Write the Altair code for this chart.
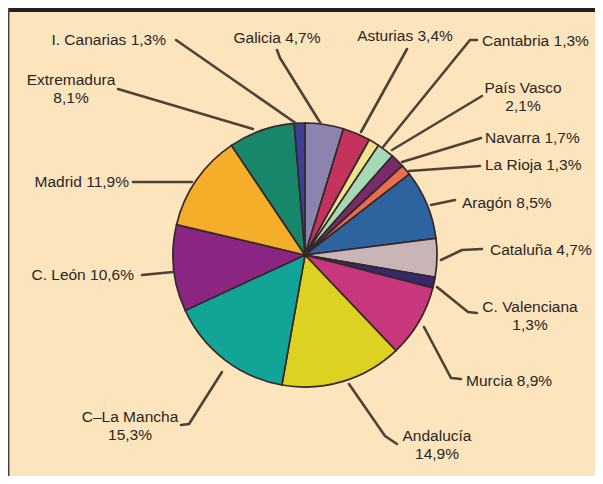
import altair as alt
import pandas as pd

# ---------------- data ----------------
regions = ["Galicia", "Asturias", "Cantabria", "País Vasco", "Navarra", "La Rioja",
           "Aragón", "Cataluña", "C. Valenciana", "Murcia", "Andalucía",
           "C–La Mancha", "C. León", "Madrid", "Extremadura", "I. Canarias"]
shares = [4.7, 3.4, 1.3, 2.1, 1.7, 1.3, 8.5, 4.7, 1.3, 8.9, 14.9, 15.3, 10.6, 11.9, 8.1, 1.3]
colors = ["#8c84ae", "#c4335e", "#f0e28c", "#a6d9b6", "#7b2a68", "#ea6e4e",
          "#2d64a0", "#c9b4b8", "#35296a", "#c8377c", "#ddd222",
          "#12a597", "#8a2581", "#f4ae2a", "#17866b", "#3c3f95"]

# ---------------- layout (page pixel coordinates) ----------------
OFF = 8  # page margin
W, H = 587, 468
CX, CY, R = 305, 255, 132

# label anchor: (x, y, align, two_lines)
label_pos = {
    "I. Canarias": (166, 40, "right", False),
    "Galicia": (277, 38, "center", False),
    "Asturias": (405, 36, "center", False),
    "Cantabria": (482, 41, "left", False),
    "País Vasco": (523, 88, "center", True),
    "Navarra": (485, 138, "left", False),
    "La Rioja": (485, 165, "left", False),
    "Aragón": (462, 203, "left", False),
    "Cataluña": (490, 250, "left", False),
    "C. Valenciana": (530, 307, "center", True),
    "Murcia": (466, 381, "left", False),
    "Andalucía": (437, 436, "center", True),
    "C–La Mancha": (130, 417, "center", True),
    "C. León": (134, 275, "right", False),
    "Madrid": (129, 182, "right", False),
    "Extremadura": (71, 80, "center", True),
}
# leader polylines
leaders = {
    "I. Canarias": [(176, 40), (297, 124)],
    "Galicia": [(277, 50), (280, 58), (321, 124)],
    "Asturias": [(407, 49), (361, 132)],
    "Cantabria": [(477, 40), (470, 40), (383, 147)],
    "País Vasco": [(482, 96), (392, 150)],
    "Navarra": [(481, 138), (402, 162)],
    "La Rioja": [(480, 166), (409, 171)],
    "Aragón": [(455, 200), (431, 205)],
    "Cataluña": [(482, 249), (462, 250), (441, 260)],
    "C. Valenciana": [(477, 313), (468, 312), (437, 287)],
    "Murcia": [(461, 379), (451, 378), (424, 327)],
    "Andalucía": [(397, 444), (385, 436), (349, 384)],
    "C–La Mancha": [(181, 425), (189, 424), (222, 372)],
    "C. León": [(142, 275), (173, 272)],
    "Madrid": [(133, 182), (192, 182)],
    "Extremadura": [(118, 89), (253, 129)],
}

TEXT_FONT = "Liberation Sans"
FS = 15.5
LINE_H = 18


def fmt(v):
    return f"{v:.1f}".replace(".", ",") + "%"


pie_df = pd.DataFrame({"region": regions, "share": shares, "idx": list(range(len(regions)))})

text_rows = []
for reg, val in zip(regions, shares):
    x, y, al, two = label_pos[reg]
    if two:
        text_rows.append({"region": reg, "x": x - OFF, "y": y - OFF, "t": reg, "al": al})
        text_rows.append({"region": reg, "x": x - OFF, "y": y - OFF + LINE_H, "t": fmt(val), "al": al})
    else:
        text_rows.append({"region": reg, "x": x - OFF, "y": y - OFF, "t": f"{reg} {fmt(val)}", "al": al})
text_df = pd.DataFrame(text_rows)

line_rows = []
for reg in regions:
    for k, (x, y) in enumerate(leaders[reg]):
        line_rows.append({"region": reg, "k": k, "x": x - OFF, "y": y - OFF})
line_df = pd.DataFrame(line_rows)

pie = alt.Chart(pie_df).mark_arc(radius=R, stroke="#35282a", strokeWidth=1.7).encode(
    theta=alt.Theta("share:Q", stack=True),
    order=alt.Order("idx:Q"),
    color=alt.Color("region:N", scale=alt.Scale(domain=regions, range=colors), legend=None),
    x=alt.value(CX - OFF),
    y=alt.value(CY - OFF),
)

lines = alt.Chart(line_df).mark_line(color="#4e4238", strokeWidth=2.6, strokeCap="round",
                                     strokeJoin="round").encode(
    x=alt.X("x:Q", scale=None, axis=None),
    y=alt.Y("y:Q", scale=None, axis=None),
    detail="region:N",
    order="k:Q",
)

texts = []
for al in ["left", "center", "right"]:
    texts.append(
        alt.Chart(text_df).transform_filter(alt.datum.al == al).mark_text(
            align=al, baseline="middle", font=TEXT_FONT, fontSize=FS, color="#2b2624"
        ).encode(
            x=alt.X("x:Q", scale=None, axis=None),
            y=alt.Y("y:Q", scale=None, axis=None),
            text="t:N",
        )
    )

dummy = pd.DataFrame({"a": [0]})
top_bar = alt.Chart(dummy).mark_rect(color="#222020").encode(
    x=alt.value(0), x2=alt.value(W), y=alt.value(0), y2=alt.value(4)
)
left_bar = alt.Chart(dummy).mark_rule(color="#4a4440", strokeWidth=1.5).encode(
    x=alt.value(0.75), y=alt.value(0), y2=alt.value(H)
)

chart = alt.layer(pie, lines, *texts, top_bar, left_bar).properties(
    width=W, height=H, padding=0, autosize=alt.AutoSizeParams(type="none"),
    background="#fce4bd",
).configure_view(stroke=None)

chart.save("out.html", embed_options={"renderer": "svg", "actions": False})
